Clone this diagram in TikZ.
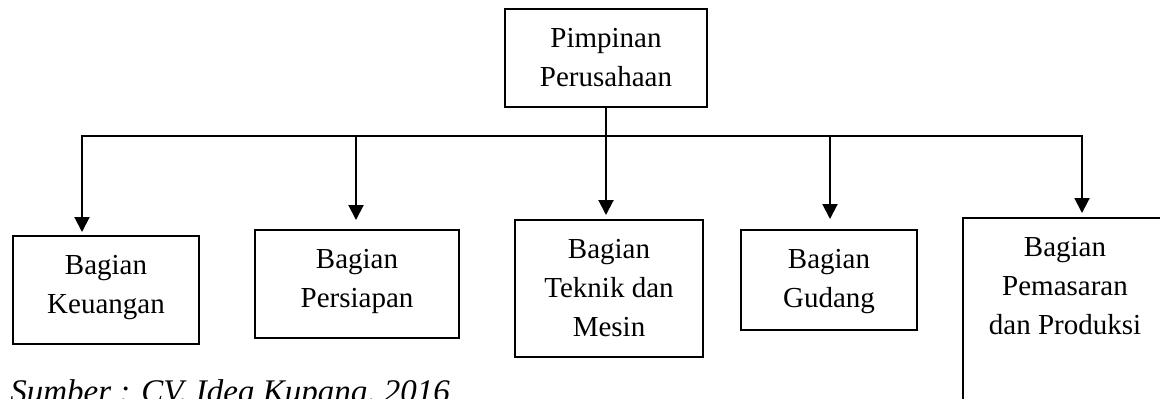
\documentclass[tikz,border=0pt]{standalone}
\usepackage{fontspec}
\setmainfont{Liberation Serif}
\usetikzlibrary{arrows.meta}

\tikzset{
    kotak/.style={draw,line width=1pt,inner sep=0pt,anchor=north west},
    garis/.style={line width=1pt,line cap=rect},
    panah/.style={line width=1pt,-{Triangle[width=7.5pt,length=7.5pt]}}
}
\newcommand{\isikotak}[3]{\parbox[c][#2][t]{#1}{\centering\vspace*{5.4pt}\strut #3}}

\begin{document}
\begin{tikzpicture}[x=0.5pt,y=-0.5pt,font=\fontsize{14.5}{19.5}\selectfont]
                        \useasboundingbox(0,0)rectangle(1160,398);
                        \clip(0,0)rectangle(1160,398);
                        \node[kotak](pimpinan)at(504,8){\isikotak{101pt}{49pt}{Pimpinan\\Perusahaan}};
                        \node[kotak](keuangan)at(12,235){\isikotak{93pt}{54pt}{Bagian\\Keuangan}};
                        \node[kotak](persiapan)at(254,229){\isikotak{102pt}{54pt}{Bagian\\Persiapan}};
                        \node[kotak](teknik)at(514,219){\isikotak{94pt}{68.5pt}{Bagian\\Teknik dan\\Mesin}};
                        \node[kotak](gudang)at(740,229){\isikotak{88pt}{50pt}{Bagian\\Gudang}};
                        \node[kotak](pemasaran)at(962,217){\isikotak{102pt}{100pt}{Bagian\\Pemasaran\\dan Produksi}};
                        \coordinate(T)at(pimpinan.south|-0,136);
                        \coordinate(K)at(82,136);
                        \coordinate(P)at(356,136);
                        \coordinate(G)at(830,136);
                        \coordinate(M)at(1082,136);
                        \draw[garis](pimpinan.south)--(T);
                        \draw[garis](K)--(M);
                        \draw[panah,shorten >=1.5pt](K)--(keuangan.north-|K);
                        \draw[panah,shorten >=4.5pt](P)--(persiapan.north-|P);
                        \draw[panah,shorten >=2pt](T)--(teknik.north-|T);
                        \draw[panah,shorten >=5pt](G)--(gudang.north-|G);
                        \draw[panah,shorten >=2pt](M)--(pemasaran.north-|M);
                        \node[anchor=base west,inner sep=0pt,font=\fontsize{16.5}{20}\selectfont\itshape](sumber)at(10,402){Sumber : CV. Idea Kupang, 2016};
                    \end{tikzpicture}
\end{document}
